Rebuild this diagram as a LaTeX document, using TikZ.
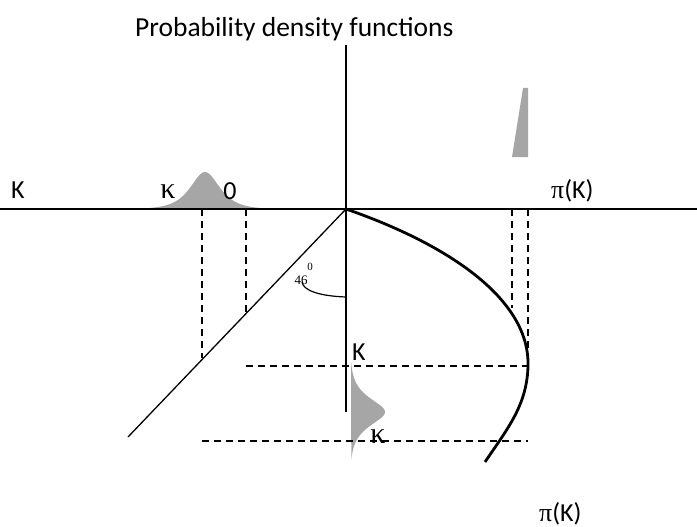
\documentclass[tikz,border=0pt]{standalone}
\usepackage{fontspec}
\setmainfont{Carlito}
\newfontfamily\grk{Liberation Serif}
\begin{document}
\begin{tikzpicture}[x=1pt,y=-1pt,
  axis/.style={line width=1.3pt},
  dline/.style={line width=1.3pt,dash pattern=on 7pt off 5pt},
  pdf/.style={fill=black!35,draw=none},
  lbl/.style={font=\fontsize{26}{28}\selectfont,inner sep=0pt},
  glbl/.style={font=\grk\fontsize{30}{32}\selectfont,inner sep=0pt}]
\useasboundingbox (0,0) rectangle (697,527);
% coordinates
\coordinate (O) at (346,209);
\coordinate (axL) at (0,209);
\coordinate (axR) at (697,209);
\coordinate (axT) at (346,45);
\coordinate (axB) at (346,412);
\coordinate (diagEnd) at (128,437);
% pdfs
\fill[pdf] plot[domain=150:260,samples=80,smooth] (\x,{209-37/cosh((\x-205)/13)}) -- cycle;
\fill[pdf] plot[domain=362:460,samples=80,smooth] ({350+35/cosh((\x-412)/12)},\x) -- cycle;
\fill[pdf] (512,157) -- (523,88) -- (528,88) -- (528,157) -- cycle;
% dashed
\coordinate (d1t) at (202,209); \coordinate (d1b) at (202,358);
\coordinate (d2t) at (246,209); \coordinate (d2b) at (246,313);
\coordinate (d3t) at (512,209); \coordinate (d3b) at (512,308);
\coordinate (d4t) at (528,209); \coordinate (d4b) at (528,366);
\coordinate (h1l) at (246,366); \coordinate (h1r) at (528,366);
\coordinate (h2l) at (202,441); \coordinate (h2r) at (528,441);
\draw[dline] (d1t) -- (d1b);
\draw[dline] (d2t) -- (d2b);
\draw[dline] (d3t) -- (d3b);
\draw[dline] (d4t) -- (d4b);
\draw[dline] (h1l) -- (h1r);
\draw[dline] (h2l) -- (h2r);
% axes
\draw[axis] (axL) -- (axR);
\draw[axis] (axT) -- (axB);
\draw[axis] (O) -- (diagEnd);
% curve
\coordinate (cR) at (528,366);
\coordinate (cE) at (485,462);
\draw[line width=2.8pt] (O) .. controls (450,245) and (530,300) .. (cR) .. controls (527,405) and (508,428) .. (cE);
% angle arc
\coordinate (a1) at (346,297);
\coordinate (a2) at (302,282);
\draw[line width=1.2pt] (a1) .. controls (318,296) and (303,290) .. (a2);
\node[font=\grk\fontsize{13}{14}\selectfont,inner sep=0pt,anchor=base] (ang) at (301,284) {46};
\node[font=\grk\fontsize{11}{12}\selectfont,inner sep=0pt,anchor=base] (angs) at (310,270) {0};
% labels
\node[lbl,font=\fontsize{27.5}{29}\selectfont,anchor=base west] (title) at (135,37) {Probability density functions};
\node[lbl,anchor=base west] (K1) at (11,198) {K};
\node[glbl,anchor=base] (k1) at (168,198) {κ};
\node[lbl,anchor=base] (z) at (230,199) {0};
\node[lbl,anchor=base west] (piK1) at (551,198) {{\grk π}(K)};
\node[lbl,anchor=base west] (K2) at (352,360) {K};
\node[glbl,anchor=base] (k2) at (378,443) {κ};
\node[lbl,anchor=base west] (piK2) at (539,521) {{\grk π}(K)};
\end{tikzpicture}
\end{document}
